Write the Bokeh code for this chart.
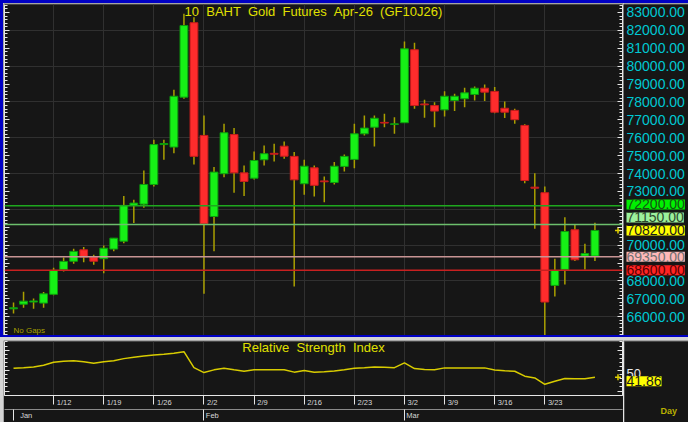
import numpy as np
from bokeh.plotting import figure
from bokeh.models import (Range1d, LinearAxis, FixedTicker, Grid, Span, Label,
                          NumeralTickFormatter, ColumnDataSource)
from bokeh.layouts import column, row
from bokeh.embed import file_html
from bokeh.resources import INLINE

# ---------------- data ----------------
dates = ["1/6", "1/7", "1/8", "1/9",
         "1/12", "1/13", "1/14", "1/15", "1/16",
         "1/19", "1/20", "1/21", "1/22", "1/23",
         "1/26", "1/27", "1/28", "1/29", "1/30",
         "2/2", "2/3", "2/4", "2/5", "2/6",
         "2/9", "2/10", "2/11", "2/12", "2/13",
         "2/16", "2/17", "2/18", "2/19", "2/20",
         "2/23", "2/24", "2/25", "2/26", "2/27",
         "3/2", "3/4", "3/5", "3/6",
         "3/9", "3/10", "3/11", "3/12", "3/13",
         "3/16", "3/17", "3/18", "3/19", "3/20",
         "3/23", "3/24", "3/25", "3/26", "3/27",
         "3/30"]

open_p = [66440, 66700, 66820, 66760, 67250, 68640, 69100, 69740, 69330, 69240,
          69780, 70220, 72220, 72290, 73390, 75620, 75480, 78270, 82430, 76130,
          71600, 73990, 76180, 74040, 73740, 74770, 75130, 75530, 74960, 73430,
          74320, 73590, 73500, 74400, 74790, 76220, 76590, 76860, 76740, 76840,
          80920, 77890, 77800, 77560, 78080, 78180, 78420, 78770, 78590, 77650,
          77530, 76690, 73240, 72930, 67750, 68640, 70860, 69390, 69390]
high_p = [66800, 67400, 67020, 67380, 68740, 69310, 69800, 69890, 69460, 69980,
          70390, 72740, 72540, 74170, 75890, 75890, 78680, 82930, 82740, 77250,
          74360, 76780, 76540, 74450, 75230, 75570, 75660, 75790, 75200, 74770,
          74450, 73840, 74640, 75070, 76780, 77250, 77250, 77340, 77150, 81380,
          81310, 78120, 77990, 78600, 78460, 78790, 78870, 78980, 78830, 78030,
          77620, 76750, 74020, 73280, 69240, 71560, 71160, 70080, 71250]
low_p = [66180, 66500, 66450, 66500, 67200, 68530, 68960, 69050, 68900, 68430,
         69660, 70110, 71230, 72090, 73280, 74770, 75140, 78180, 74510, 67280,
         69660, 73800, 72930, 72740, 73670, 74450, 74680, 74830, 67690, 72820,
         72720, 72400, 73390, 74120, 74300, 76130, 75510, 76590, 76220, 76840,
         77620, 77120, 76590, 77190, 77490, 77710, 78080, 78050, 77370, 77100,
         76780, 73460, 70920, 64950, 67130, 67800, 69110, 68640, 69110]
close_p = [66500, 66870, 66880, 67280, 68590, 69090, 69650, 69330, 69100, 69830,
           70390, 72220, 72350, 73390, 75620, 75680, 78320, 82270, 74960, 71200,
           74080, 76280, 74040, 73560, 74730, 75110, 75080, 74970, 73650, 74410,
           73340, 73540, 74410, 74960, 76220, 76540, 77090, 76820, 76780, 80970,
           77800, 77840, 77490, 78320, 78320, 78510, 78770, 78550, 77430, 77430,
           77010, 73610, 73180, 66820, 68590, 70760, 69180, 69530, 70820]

rsi = [52.9, 53.6, 54.4, 56.6, 60.2, 61.3, 62.1, 60.8, 59.1, 60.8,
       62.1, 64.6, 66.3, 67.9, 69.0, 69.8, 71.2, 73.1, 53.6, 47.6,
       50.9, 52.9, 50.9, 49.2, 51.1, 51.1, 51.1, 51.1, 48.1, 50.0,
       48.1, 48.7, 49.6, 51.1, 52.9, 53.6, 54.4, 54.0, 53.6, 59.5,
       52.5, 51.4, 51.1, 53.3, 53.3, 53.3, 53.3, 53.3, 50.7, 49.8,
       49.2, 43.2, 41.0, 33.3, 37.1, 40.4, 40.1, 40.1, 41.86]

week_labels = ["1/12", "1/19", "1/26", "2/2", "2/9", "2/16", "2/23",
               "3/2", "3/9", "3/16", "3/23"]
month_labels = ["Jan", "Feb", "Mar"]
month_first = ["1/6", "2/2", "3/2"]

levels = [72200, 71150, 69350, 68600]
level_line_colors = ["#1ea81e", "#6cbf6c", "#c89494", "#c82020"]
level_box_colors = ["#00f000", "#9cf09c", "#ffb8b8", "#ff2424"]
level_text_colors = ["#145214", "#2c4a2c", "#707070", "#5a0000"]
last_box_color = "#ffff00"

title_text = "10  BAHT  Gold  Futures  Apr-26  (GF10J26)"
rsi_title_text = "Relative  Strength  Index"

# ---------------- styling ----------------
FONT = "Liberation Sans"
BG = "#161616"
GRID = "#303030"
TICK = "#e6e6e6"
UP = "#16f016"
DN = "#ff2c2c"
WICK = "#aaa000"
NB = "\u00a0"

def keep_spaces(s):
    return s.replace("  ", " " + NB)

n = len(close_p)
idx = list(range(n))
week_idx = [dates.index(d) for d in week_labels]
month_idx = [dates.index(d) for d in month_first]

# approximate text widths (em) to offset centred tick labels to the right of their tick
CW = {"/": 0.278, "J": 0.5, "a": 0.556, "n": 0.556, "F": 0.611, "e": 0.556, "b": 0.556,
      "M": 0.833, "r": 0.333}
def shifted(label, size, gap):
    w = sum(CW.get(ch, 0.556) for ch in label) * size
    k = int(round((w + 2 * gap) / (0.278 * size)))
    return NB * k + label

xr = Range1d(-0.9, 60.75)
FRAME_W = 618
ux = (xr.end - xr.start) / FRAME_W  # data units per px

# ---------------- main price panel ----------------
yr1 = Range1d(64950, 83447)
H1 = 332
uy1 = (yr1.end - yr1.start) / (H1 - 1)

def base_fig(w, h, xrange, yrange, **kw):
    f = figure(width=w, height=h, x_range=xrange, y_range=yrange,
               output_backend="svg", toolbar_location=None,
               x_axis_type=None, y_axis_type=None,
               background_fill_color=BG, border_fill_color=BG,
               outline_line_color=None, **kw)
    return f

p1 = base_fig(620, H1, xr, yr1, min_border_left=1, min_border_right=1,
              min_border_top=1, min_border_bottom=0)

p1.add_layout(Grid(dimension=0, ticker=FixedTicker(ticks=week_idx),
                   grid_line_color=GRID))
p1.add_layout(Grid(dimension=1, ticker=FixedTicker(ticks=list(range(66000, 84000, 2000))),
                   grid_line_color=GRID))

for lv, lc in zip(levels, level_line_colors):
    p1.add_layout(Span(location=lv, dimension="width", line_color=lc, line_width=1.5))

o = np.array(open_p); c = np.array(close_p)
src = ColumnDataSource(dict(
    x=idx, high=high_p, low=low_p,
    top=np.maximum(o, c), bottom=np.minimum(o, c),
    color=[UP if cc >= oo else DN for oo, cc in zip(open_p, close_p)],
    edge=["#0c9c0c" if cc >= oo else "#c41c1c" for oo, cc in zip(open_p, close_p)],
))
p1.segment(x0="x", y0="low", x1="x", y1="high", source=src, line_color=WICK, line_width=1.5)
p1.vbar(x="x", width=0.78, top="top", bottom="bottom", source=src,
        fill_color="color", line_color="edge", line_width=1)

major_all = list(range(66000, 84000, 1000))
minor = list(range(64800, 83600, 200))
for side in ("left", "right"):
    p1.add_layout(LinearAxis(ticker=FixedTicker(ticks=major_all, minor_ticks=minor),
                             major_label_overrides={t: "" for t in major_all},
                             major_label_standoff=0, major_tick_in=5, major_tick_out=0,
                             minor_tick_in=3, minor_tick_out=0,
                             axis_line_color=TICK, major_tick_line_color=TICK,
                             minor_tick_line_color=TICK), side)

last = close_p[-1]
p1.scatter(x=[n - 1 + 2.3], y=[last], marker="cross", size=6, line_color="#e0d000",
           line_width=1.5)
p1.add_layout(Label(x=(xr.start + xr.end) / 2, y=yr1.end - 7 * uy1,
                    text=keep_spaces(title_text),
                    text_font=FONT, text_font_size="13px", text_color="#e0e000",
                    text_align="center", text_baseline="middle"))
p1.add_layout(Label(x=xr.start + 9 * ux, y=yr1.start + 1 * uy1, text="No Gaps",
                    text_font=FONT, text_font_size="8px", text_color="#a8a000",
                    text_align="left", text_baseline="bottom"))

# right-hand price scale panel
p1r = base_fig(65, H1, Range1d(0, 65), yr1, min_border_left=0, min_border_right=0,
               min_border_top=1, min_border_bottom=0)
box_vals = levels + [last]
label_ticks = [t for t in major_all if min(abs(t - b) for b in box_vals) > 560]
p1r.add_layout(LinearAxis(ticker=FixedTicker(ticks=label_ticks, minor_ticks=[]),
                          formatter=NumeralTickFormatter(format="0.00"),
                          major_label_text_color="#00c8d2", major_label_text_font=FONT,
                          major_label_text_font_size="14px", major_label_standoff=-62,
                          major_tick_in=0, major_tick_out=0, axis_line_color=None,
                          major_tick_line_color=None, minor_tick_line_color=None), "right")

step = 13 * uy1
above = sorted([l for l in levels if l > last])
below = sorted([l for l in levels if l < last], reverse=True)
pos = {}
prev = last
for l in above:
    pos[l] = max(l, prev + step); prev = pos[l]
prev = last
for l in below:
    pos[l] = min(l, prev - step); prev = pos[l]
BX = 3
for lv, bc, tc in zip(levels, level_box_colors, level_text_colors):
    p1r.add_layout(Label(x=BX, y=pos[lv], text=f"{lv:.2f}", text_font=FONT,
                         text_font_size="14px", text_color=tc, background_fill_color=bc,
                         text_baseline="middle", text_align="left"))
p1r.add_layout(Label(x=BX, y=last, text=f"{last:.2f}", text_font=FONT,
                     text_font_size="14px", text_color="#1a1a1a",
                     background_fill_color=last_box_color,
                     text_baseline="middle", text_align="left"))

# ---------------- RSI panel ----------------
yr2 = Range1d(19.6, 85.5)
H2 = 82
uy2 = (yr2.end - yr2.start) / 60
p2 = base_fig(620, H2, xr, yr2, min_border_left=1, min_border_right=1,
              min_border_top=1, min_border_bottom=21)
p2.add_layout(Grid(dimension=0, ticker=FixedTicker(ticks=week_idx), grid_line_color=GRID))
p2.line(idx, rsi, line_color="#d8cc00", line_width=1.5)

rsi_minor = list(range(20, 90, 5))
for side in ("left", "right"):
    p2.add_layout(LinearAxis(ticker=FixedTicker(ticks=[25, 50, 75], minor_ticks=rsi_minor),
                             major_label_overrides={25: "", 50: "", 75: ""},
                             major_label_standoff=0, major_tick_in=5, major_tick_out=0,
                             minor_tick_in=3, minor_tick_out=0,
                             axis_line_color=TICK, major_tick_line_color=TICK,
                             minor_tick_line_color=TICK), side)

p2.add_layout(LinearAxis(ticker=FixedTicker(ticks=week_idx, minor_ticks=[]),
                         major_label_overrides={i: shifted(l, 7.5, 3) for i, l in zip(week_idx, week_labels)},
                         major_label_text_font=FONT,
                         major_label_text_font_size="7.5px", major_label_text_color="#d8d8d8",
                         major_tick_out=9, major_tick_in=0, major_label_standoff=-7,
                         axis_line_color=TICK, major_tick_line_color=TICK), "below")
p2.add_layout(LinearAxis(ticker=FixedTicker(ticks=month_idx, minor_ticks=[]),
                         major_label_overrides={i: shifted(l, 7.5, 2) for i, l in zip(month_idx, month_labels)},
                         major_label_text_font=FONT,
                         major_label_text_font_size="7.5px", major_label_text_color="#d8d8d8",
                         major_tick_out=11, major_tick_in=0, major_label_standoff=-10,
                         axis_line_color="#8a8a8a", major_tick_line_color=TICK), "below")

p2.add_layout(Label(x=(xr.start + xr.end) / 2, y=yr2.end - 7 * uy2,
                    text=keep_spaces(rsi_title_text),
                    text_font=FONT, text_font_size="13px", text_color="#e0e000",
                    text_align="center", text_baseline="middle"))
p2.scatter(x=[n - 1 + 2.3], y=[rsi[-1]], marker="cross", size=6, line_color="#e0d000",
           line_width=1.5)

# right-hand RSI scale panel (extends down through the date rows)
p2r = base_fig(65, H2, Range1d(0, 65), Range1d(yr2.end - 81 * uy2, yr2.end),
               min_border_left=0, min_border_right=0, min_border_top=1, min_border_bottom=0)
p2r.frame_align = False
p2r.add_layout(LinearAxis(ticker=FixedTicker(ticks=[50], minor_ticks=[]),
                          major_label_text_color="#e8e8e8", major_label_text_font=FONT,
                          major_label_text_font_size="13px", major_label_standoff=-62,
                          major_tick_in=0, major_tick_out=0, axis_line_color=None,
                          major_tick_line_color=None), "right")
p2r.add_layout(LinearAxis(ticker=FixedTicker(ticks=[], minor_ticks=[]),
                          major_label_standoff=0, major_tick_in=0, major_tick_out=0,
                          axis_line_color=TICK, axis_line_width=1.5), "left")
p2r.add_layout(Label(x=BX, y=rsi[-1], text=f"{rsi[-1]:.2f}", text_font=FONT,
                     text_font_size="14px", text_color="#1a1a1a",
                     background_fill_color="#ffff00",
                     text_baseline="middle", text_align="left"))
p2r.add_layout(Label(x=37, y=yr2.end - 69 * uy2, text="Day",
                     text_font=FONT, text_font_size="9px", text_font_style="bold",
                     text_color="#b8b000", text_align="left", text_baseline="middle"))

row1 = row(p1, p1r, spacing=0,
           styles={"border-top": "3px solid #0000c4", "border-left": "3px solid #0000c4",
                   "border-bottom": "2px solid #0000c4"})
row2 = row(p2, p2r, spacing=0, styles={"border-left": "3px solid #d4d4d4"})
layout = column(row1, row2, spacing=3, styles={"background-color": "#d4d4d4"})

open("out.html", "w").write(file_html(layout, INLINE))
